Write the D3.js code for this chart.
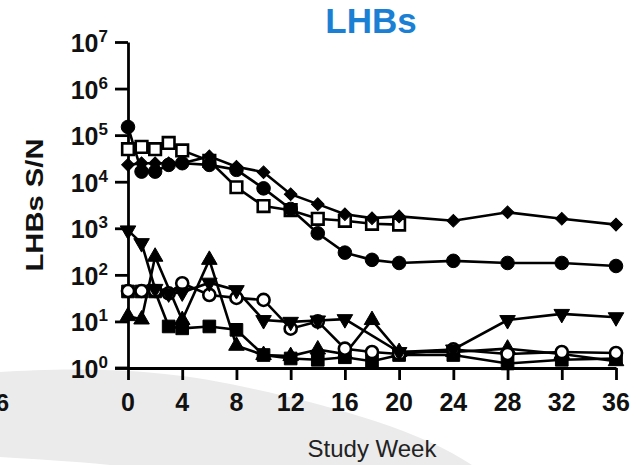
<!DOCTYPE html>
<html>
<head>
<meta charset="utf-8">
<script src="https://cdn.jsdelivr.net/npm/d3@7"></script>
<style>
  body { margin: 0; background: #fff; }
  svg { display: block; font-family: "Liberation Sans", Arial, sans-serif; }
</style>
</head>
<body>
<div id="chart"></div>
<script>
// Weeks sampled, per series
const weeksFull = [0, 1, 2, 3, 4, 6, 8, 10, 12, 14, 16, 18, 20, 24, 28, 32, 36];
const weeksOpenSquare = [0, 1, 2, 3, 4, 6, 8, 10, 12, 14, 16, 18, 20];
const weeksDownTri = [0, 1, 2, 3, 4, 6, 8, 10, 12, 14, 16, 20, 24, 28, 32, 36];
const weeksUpTri = [0, 1, 2, 4, 6, 8, 10, 12, 14, 16, 18, 20, 24, 28, 32, 36];

// LHBs S/N values
const diamondVals = [23000, 25000, 25000, 25000, 25000, 35000, 21000, 16000, 5400, 3300, 2000, 1650, 1800, 1450, 2200, 1600, 1200];
const filledCircleVals = [150000, 16500, 16500, 23000, 25000, 23000, 18000, 7200, 2600, 780, 300, 210, 180, 200, 180, 180, 155];
const openSquareVals = [50000, 56000, 50000, 68000, 47000, 28000, 7600, 3000, 2450, 1600, 1450, 1250, 1200];
const downTriVals = [900, 480, 50, 40, 42, 68, 47, 10.7, 9.8, 10.5, 11.2, 2.2, 2.5, 10.7, 14.5, 12.3];
const openCircleVals = [45, 45, 45, 40, 66, 37, 32, 29, 7, 10, 2.6, 2.2, 2.0, 2.5, 2.0, 2.2, 2.1];
const upTriVals = [13, 11, 245, 10.7, 210, 3, 1.9, 1.8, 2.5, 2, 10.7, 2.2, 2.2, 2.6, 2, 1.4];
const filledSquareVals = [44, 44, 44, 7.8, 7.1, 7.8, 6.6, 1.9, 1.6, 1.5, 1.7, 1.4, 1.9, 1.9, 1.25, 1.5, 1.6];

const xTicks = [0, 4, 8, 12, 16, 20, 24, 28, 32, 36];
const yTickExps = [0, 1, 2, 3, 4, 5, 6, 7];

const W = 644, H = 465;
const svg = d3.select("#chart").append("svg")
  .attr("width", W)
  .attr("height", H);

// background swoosh from the slide behind the figure
svg.append("path")
  .attr("d", "M0,372 C60,368 150,366 240,386 C330,405 420,430 472,465 L110,465 C70,461 30,459 0,457 Z")
  .attr("fill", "#ebebeb");

// clipped leftover tick label from the neighbouring panel
svg.append("text")
  .attr("x", 9).attr("y", 411)
  .attr("text-anchor", "end")
  .attr("font-size", 24).attr("font-weight", "bold")
  .attr("fill", "#111")
  .text("36");

const x = d3.scaleLinear().domain([0, 36]).range([128, 616]);
const y = d3.scaleLog().domain([1, 1e7]).range([368, 42]);

// Axes
const yAxis = svg.append("g")
  .attr("transform", `translate(${x(0)},0)`)
  .call(d3.axisLeft(y).tickValues(yTickExps.map(e => Math.pow(10, e))).tickSize(13).tickSizeOuter(0).tickFormat(""));
const xAxis = svg.append("g")
  .attr("transform", `translate(0,${y(1)})`)
  .call(d3.axisBottom(x).tickValues(xTicks).tickSize(12).tickSizeOuter(0).tickFormat(""));

[yAxis, xAxis].forEach(g => {
  g.select(".domain").attr("stroke", "#000").attr("stroke-width", 2.8);
  g.selectAll(".tick line").attr("stroke", "#000").attr("stroke-width", 2.8);
});
// extend x axis line back to the end of the y ticks
svg.append("line")
  .attr("x1", x(0) - 13).attr("x2", x(0))
  .attr("y1", y(1)).attr("y2", y(1))
  .attr("stroke", "#000").attr("stroke-width", 2.8);

// y tick labels 10^n
yTickExps.forEach(e => {
  const t = svg.append("text")
    .attr("x", x(0) - 20)
    .attr("y", y(Math.pow(10, e)) + 10)
    .attr("text-anchor", "end")
    .attr("font-weight", "bold")
    .attr("font-size", 25)
    .attr("fill", "#111");
  t.append("tspan").text("10");
  t.append("tspan").attr("font-size", 17).attr("dy", -10).text(e);
});

// x tick labels
xTicks.forEach(v => {
  svg.append("text")
    .attr("x", x(v))
    .attr("y", 411)
    .attr("text-anchor", "middle")
    .attr("font-weight", "bold")
    .attr("font-size", 25)
    .attr("fill", "#111")
    .text(v);
});

// Titles
svg.append("text")
  .attr("x", 371).attr("y", 33)
  .attr("text-anchor", "middle")
  .attr("font-weight", "bold")
  .attr("font-size", 35)
  .attr("fill", "#1b7fd4")
  .text("LHBs");

svg.append("text")
  .attr("transform", "translate(43,205) rotate(-90)")
  .attr("text-anchor", "middle")
  .attr("font-weight", "bold")
  .attr("font-size", 24)
  .attr("textLength", 133)
  .attr("lengthAdjust", "spacingAndGlyphs")
  .attr("fill", "#111")
  .text("LHBs S/N");

svg.append("text")
  .attr("x", 372).attr("y", 457)
  .attr("text-anchor", "middle")
  .attr("font-size", 24)
  .attr("fill", "#222")
  .text("Study Week");

// Series
const series = [
  { weeks: weeksFull, vals: filledSquareVals, shape: d3.symbolSquare, size: 160, fill: "#000", rot: 0 },
  { weeks: weeksUpTri, vals: upTriVals, shape: d3.symbolTriangle, size: 105, fill: "#000", rot: 0 },
  { weeks: weeksFull, vals: openCircleVals, shape: d3.symbolCircle, size: 115, fill: "#fff", rot: 0 },
  { weeks: weeksDownTri, vals: downTriVals, shape: d3.symbolTriangle, size: 105, fill: "#000", rot: 180 },
  { weeks: weeksOpenSquare, vals: openSquareVals, shape: d3.symbolSquare, size: 135, fill: "#fff", rot: 0 },
  { weeks: weeksFull, vals: filledCircleVals, shape: d3.symbolCircle, size: 145, fill: "#000", rot: 0 },
  { weeks: weeksFull, vals: diamondVals, shape: d3.symbolSquare, size: 80, fill: "#000", rot: 45 }
];

const line = d3.line().x(d => x(d[0])).y(d => y(d[1]));

series.forEach(s => {
  const pts = s.weeks.map((w, i) => [w, s.vals[i]]);
  svg.append("path")
    .datum(pts)
    .attr("d", line)
    .attr("fill", "none")
    .attr("stroke", "#000")
    .attr("stroke-width", 2.6);
});

series.forEach(s => {
  const pts = s.weeks.map((w, i) => [w, s.vals[i]]);
  svg.append("g").selectAll("path")
    .data(pts)
    .join("path")
    .attr("d", d3.symbol().type(s.shape).size(s.size))
    .attr("transform", d => `translate(${x(d[0])},${y(d[1])}) rotate(${s.rot})`)
    .attr("fill", s.fill)
    .attr("stroke", "#000")
    .attr("stroke-width", s.fill === "#fff" ? 2.6 : 1);
});
</script>
</body>
</html>
